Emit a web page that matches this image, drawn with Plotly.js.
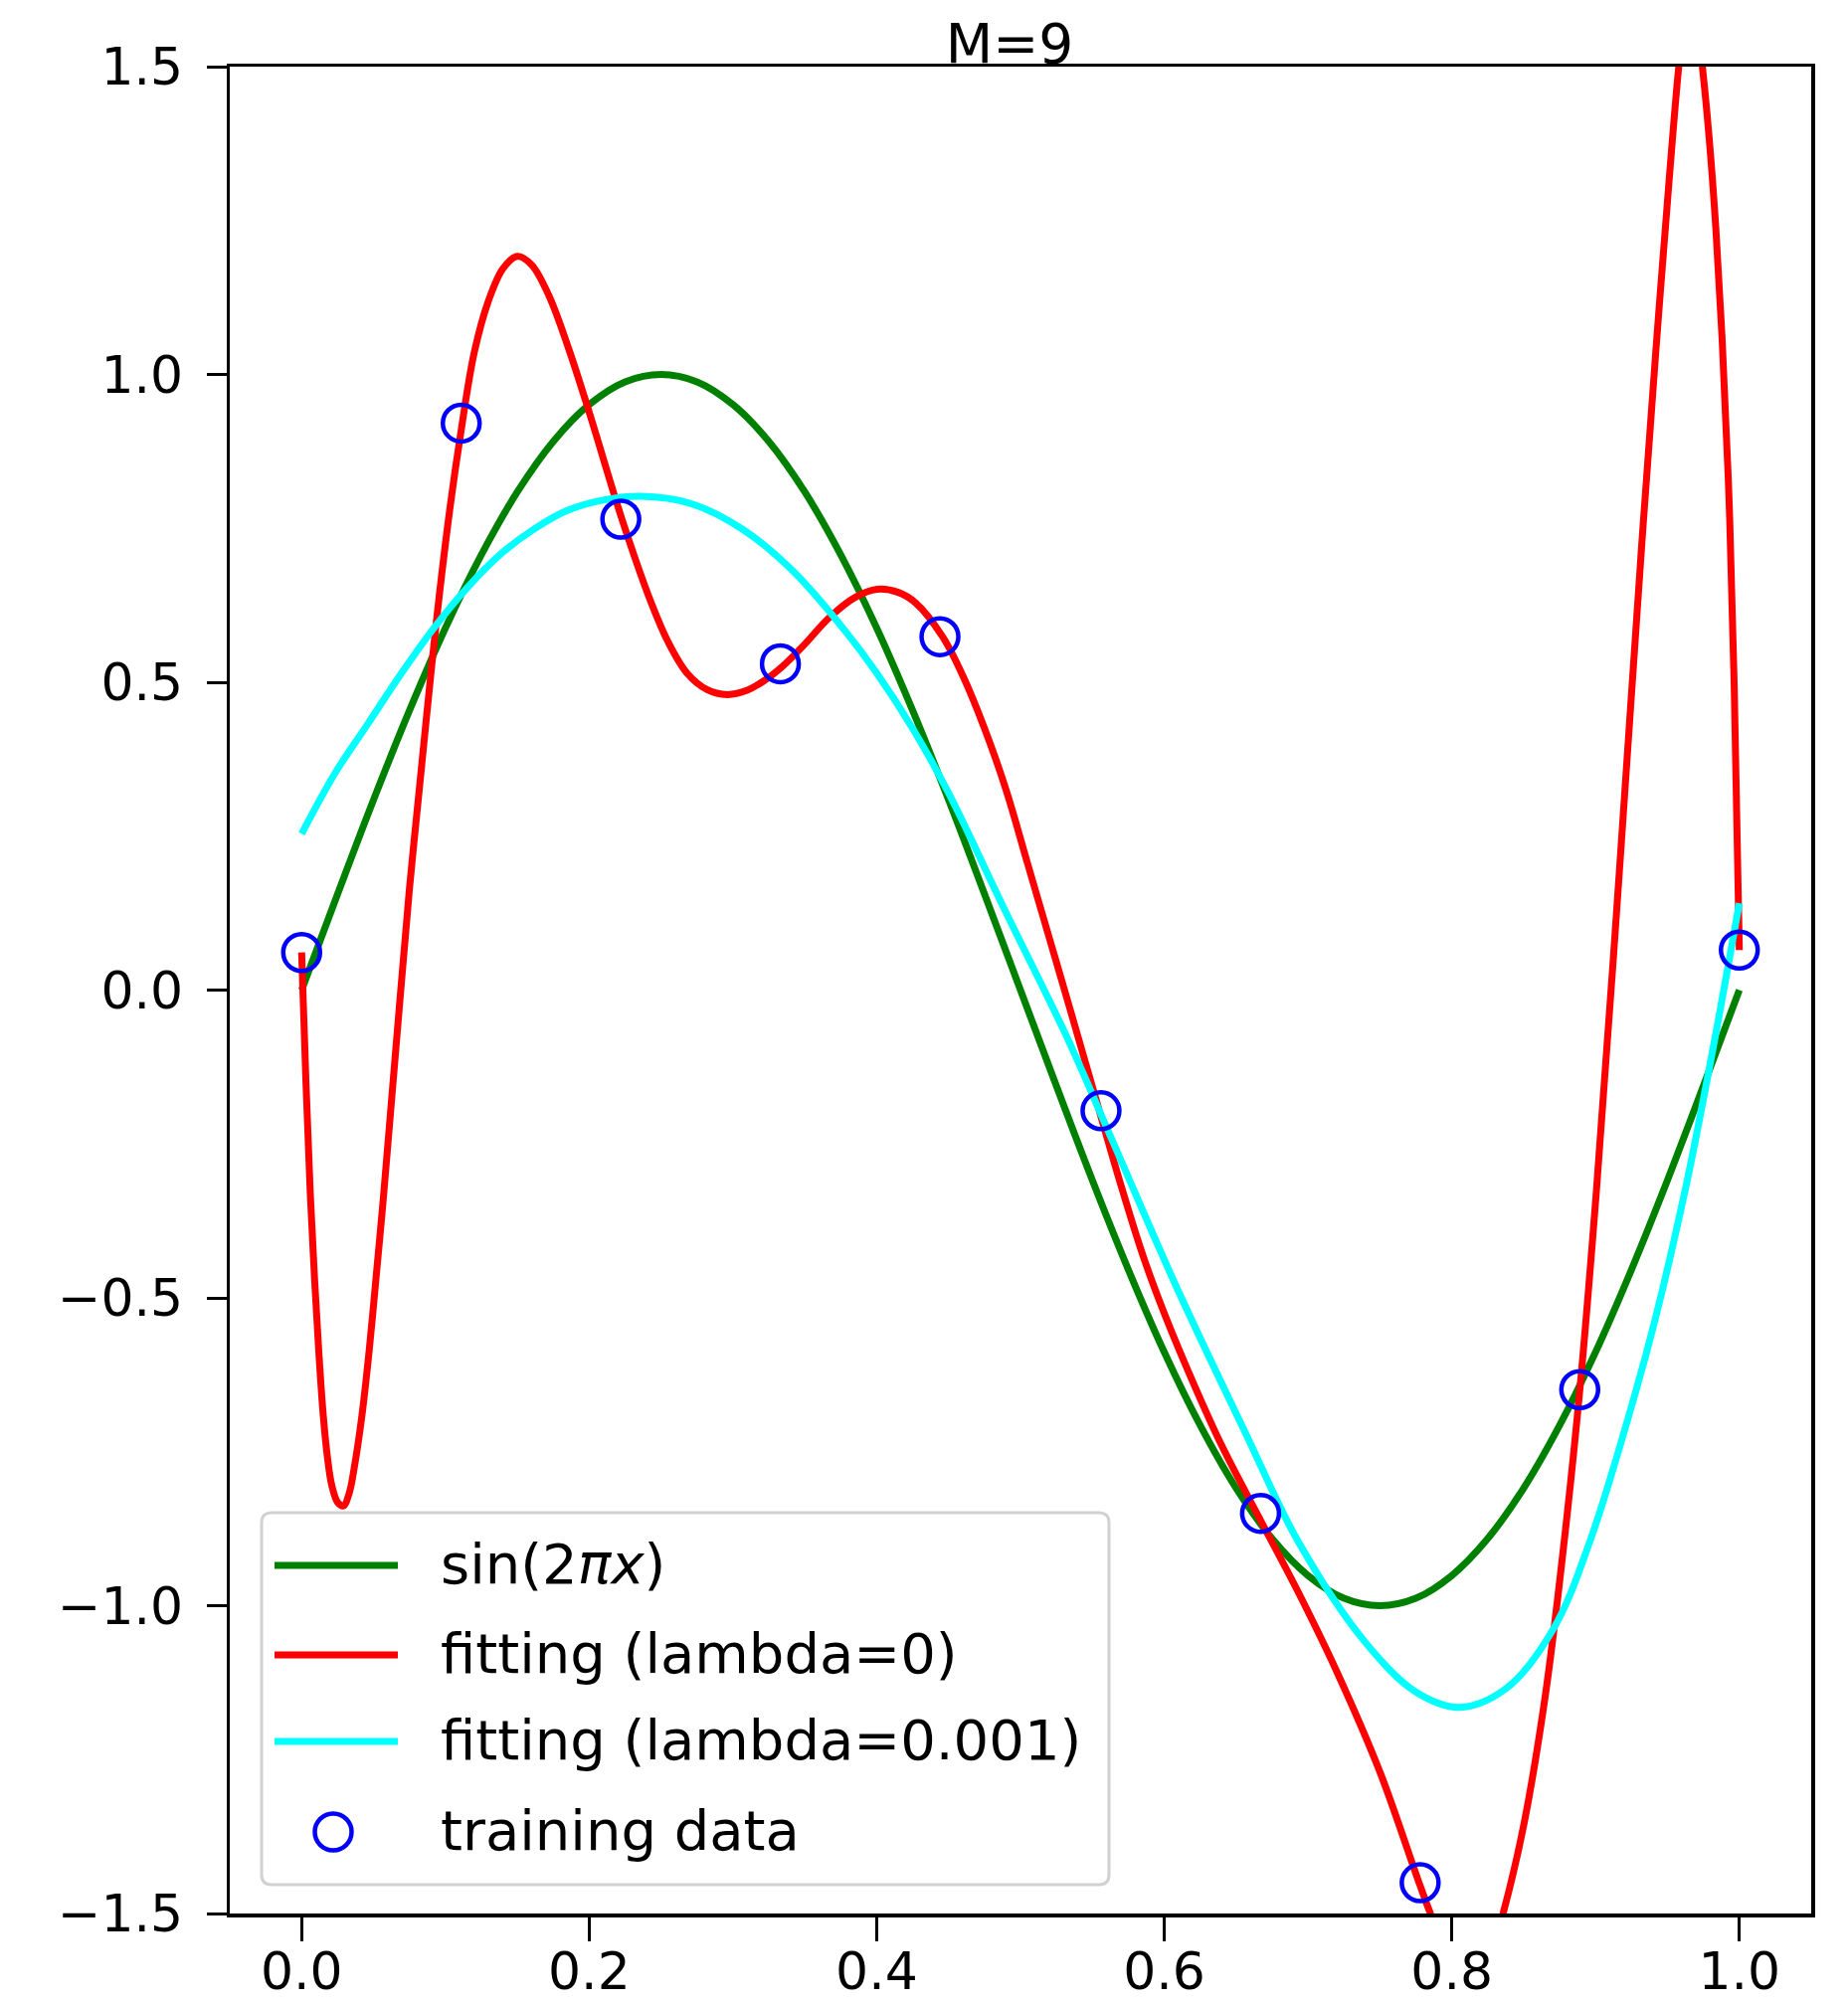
<!DOCTYPE html>
<html>
<head>
<meta charset="utf-8">
<script src="https://cdn.plot.ly/plotly-3.0.1.min.js"></script>
<style>
  html, body { margin: 0; padding: 0; background: #ffffff; }
  #chart { width: 1858px; height: 2015px; }
</style>
</head>
<body>
<div id="chart"></div>
<script>
// ---------------- data ----------------
const chartTitle = "M=9";

const xTickVals = [0.0, 0.2, 0.4, 0.6, 0.8, 1.0];
const xTickText = ["0.0", "0.2", "0.4", "0.6", "0.8", "1.0"];
const yTickVals = [-1.5, -1.0, -0.5, 0.0, 0.5, 1.0, 1.5];
const yTickText = ["\u22121.5", "\u22121.0", "\u22120.5", "0.0", "0.5", "1.0", "1.5"];

const seriesNames = ["sin(2<i>\u03c0x</i>)", "fitting (lambda=0)", "fitting (lambda=0.001)", "training data"];

// green: sin(2 pi x)
const xSin = [0, 0.025, 0.05, 0.075, 0.1, 0.125, 0.15, 0.175, 0.2, 0.225, 0.25, 0.275, 0.3, 0.325, 0.35, 0.375, 0.4, 0.425, 0.45, 0.475, 0.5,
              0.525, 0.55, 0.575, 0.6, 0.625, 0.65, 0.675, 0.7, 0.725, 0.75, 0.775, 0.8, 0.825, 0.85, 0.875, 0.9, 0.925, 0.95, 0.975, 1.0];
const ySin = [0, 0.156, 0.309, 0.454, 0.588, 0.707, 0.809, 0.891, 0.951, 0.988, 1.0, 0.988, 0.951, 0.891, 0.809, 0.707, 0.588, 0.454, 0.309, 0.156, 0,
              -0.156, -0.309, -0.454, -0.588, -0.707, -0.809, -0.891, -0.951, -0.988, -1.0, -0.988, -0.951, -0.891, -0.809, -0.707, -0.588, -0.454, -0.309, -0.156, 0];

// red: fit with lambda = 0
const xFit0 = [0, 0.003, 0.006, 0.009, 0.012, 0.015, 0.018, 0.021, 0.025, 0.029,
               0.033, 0.037, 0.042, 0.047, 0.052, 0.056, 0.060, 0.065, 0.0695, 0.075,
               0.082, 0.088, 0.094, 0.103, 0.111, 0.12, 0.13, 0.14, 0.15, 0.16,
               0.172, 0.186, 0.2005, 0.2228, 0.243, 0.255, 0.268, 0.282, 0.296, 0.31,
               0.322, 0.335, 0.35, 0.367, 0.385, 0.4004, 0.415, 0.427, 0.4458, 0.46,
               0.475, 0.49, 0.505, 0.52, 0.535, 0.5547, 0.57, 0.585, 0.60, 0.62,
               0.64, 0.666, 0.693, 0.72, 0.75, 0.7777, 0.786, 0.7984, 0.8109, 0.8233,
               0.8357, 0.85, 0.865, 0.877, 0.889, 0.9005, 0.912, 0.9236, 0.9329, 0.942,
               0.9513, 0.9578, 0.9619, 0.966, 0.9702, 0.9743, 0.979, 0.9836, 0.988, 0.9928,
               0.9964, 1.0];
const yFit0 = [0.061, -0.15, -0.33, -0.47, -0.59, -0.69, -0.76, -0.805, -0.832, -0.838,
               -0.818, -0.77, -0.69, -0.585, -0.461, -0.36, -0.25, -0.11, 0.015, 0.165,
               0.33, 0.47, 0.605, 0.78, 0.91, 1.035, 1.12, 1.172, 1.192, 1.178,
               1.128, 1.040, 0.935, 0.765, 0.630, 0.565, 0.515, 0.488, 0.480, 0.487,
               0.503, 0.527, 0.562, 0.605, 0.638, 0.651, 0.646, 0.629, 0.574, 0.51,
               0.425, 0.325, 0.205, 0.085, -0.035, -0.195, -0.318, -0.43, -0.525, -0.637,
               -0.74, -0.857, -0.977, -1.107, -1.27, -1.453, -1.505, -1.57, -1.612, -1.598,
               -1.50, -1.357, -1.147, -0.92, -0.651, -0.329, 0.039, 0.433, 0.749, 1.040,
               1.319, 1.498, 1.58, 1.605, 1.578, 1.50, 1.385, 1.24, 1.06, 0.80,
               0.50, 0.065];

// cyan: fit with lambda = 0.001
const xFit1 = [0, 0.0234, 0.0465, 0.0695, 0.0926, 0.1157, 0.1388, 0.1618, 0.1848, 0.2079,
               0.236, 0.271, 0.307, 0.342, 0.3775, 0.40, 0.425, 0.45, 0.487, 0.533,
               0.564, 0.610, 0.6566, 0.693, 0.740, 0.775, 0.8053, 0.838, 0.8708, 0.896,
               0.927, 0.942, 0.9628, 0.9813, 1.0];
const yFit1 = [0.254, 0.353, 0.434, 0.515, 0.590, 0.655, 0.709, 0.749, 0.779, 0.795,
               0.802, 0.790, 0.748, 0.68, 0.585, 0.515, 0.425, 0.32, 0.14, -0.08,
               -0.245, -0.49, -0.72, -0.895, -1.06, -1.14, -1.165, -1.134, -1.037, -0.896,
               -0.66, -0.53, -0.32, -0.10, 0.141];

// blue circles: training data
const xTrain = [0, 0.111, 0.222, 0.333, 0.444, 0.556, 0.667, 0.778, 0.889, 1.0];
const yTrain = [0.061, 0.921, 0.765, 0.530, 0.574, -0.196, -0.850, -1.450, -0.649, 0.065];

// ---------------- styling ----------------
const COLORS = ["#008000", "#ff0000", "#00ffff", "#0000ff"];
const FONT = "DejaVu Sans, Liberation Sans, sans-serif";
const W = 1858, H = 2015;
const L = 231, R = 1821, T = 67, B = 1924;   // plot area in pixels
const px2x = p => (p - L) / (R - L);
const py2y = p => (B - p) / (B - T);

const lineW = 7;
const traces = [
  { x: xSin, y: ySin, type: "scatter", mode: "lines", name: seriesNames[0],
    line: { color: COLORS[0], width: lineW, shape: "spline", smoothing: 1 } },
  { x: xFit0, y: yFit0, type: "scatter", mode: "lines", name: seriesNames[1],
    line: { color: COLORS[1], width: lineW, shape: "spline", smoothing: 1 } },
  { x: xFit1, y: yFit1, type: "scatter", mode: "lines", name: seriesNames[2],
    line: { color: COLORS[2], width: lineW, shape: "spline", smoothing: 1 } },
  { x: xTrain, y: yTrain, type: "scatter", mode: "markers", name: seriesNames[3],
    marker: { symbol: "circle-open", size: 37, color: COLORS[3], line: { color: COLORS[3], width: 4.5 } },
    cliponaxis: false }
];

// ---------------- hand-drawn legend (matplotlib style) ----------------
function roundedRectPath(x0p, y0p, x1p, y1p, rp) {
  const X = p => px2x(p).toFixed(5), Y = p => py2y(p).toFixed(5);
  return "M " + X(x0p + rp) + "," + Y(y0p) +
    " L " + X(x1p - rp) + "," + Y(y0p) +
    " Q " + X(x1p) + "," + Y(y0p) + " " + X(x1p) + "," + Y(y0p + rp) +
    " L " + X(x1p) + "," + Y(y1p - rp) +
    " Q " + X(x1p) + "," + Y(y1p) + " " + X(x1p - rp) + "," + Y(y1p) +
    " L " + X(x0p + rp) + "," + Y(y1p) +
    " Q " + X(x0p) + "," + Y(y1p) + " " + X(x0p) + "," + Y(y1p - rp) +
    " L " + X(x0p) + "," + Y(y0p + rp) +
    " Q " + X(x0p) + "," + Y(y0p) + " " + X(x0p + rp) + "," + Y(y0p) + " Z";
}
const legBox = { x0: 263, y0: 1521, x1: 1115, y1: 1895 };
const legRows = [1574, 1664, 1751, 1842];
const legLineX = [276, 400];
const legTextX = 441;

const shapes = [
  { type: "path", xref: "paper", yref: "paper", layer: "above",
    path: roundedRectPath(legBox.x0, legBox.y0, legBox.x1, legBox.y1, 10),
    fillcolor: "rgba(255,255,255,0.8)", line: { color: "rgba(204,204,204,0.9)", width: 3 } }
];
for (let i = 0; i < 3; i++) {
  shapes.push({ type: "line", xref: "paper", yref: "paper", layer: "above",
    x0: px2x(legLineX[0]), x1: px2x(legLineX[1]), y0: py2y(legRows[i]), y1: py2y(legRows[i]),
    line: { color: COLORS[i], width: lineW } });
}
shapes.push({ type: "circle", xref: "paper", yref: "paper", layer: "above",
  x0: px2x(335 - 18.5), x1: px2x(335 + 18.5), y0: py2y(legRows[3] + 18.5), y1: py2y(legRows[3] - 18.5),
  line: { color: COLORS[3], width: 4.5 }, fillcolor: "rgba(0,0,0,0)" });

const annotations = seriesNames.map((name, i) => ({
  text: name, xref: "paper", yref: "paper", x: px2x(legTextX), y: py2y(legRows[i] - 2),
  xanchor: "left", yanchor: "middle", showarrow: false,
  font: { family: FONT, size: 56, color: "#000000" }
}));

const layout = {
  width: W, height: H,
  margin: { l: L, r: W - R, t: T, b: H - B, pad: 0 },
  paper_bgcolor: "#ffffff", plot_bgcolor: "#ffffff",
  showlegend: false,
  title: { text: chartTitle, font: { family: FONT, size: 55, color: "#000000" },
           x: px2x(1015), xref: "paper", xanchor: "center",
           y: (H - 44) / H, yref: "container", yanchor: "middle" },
  xaxis: {
    range: [-0.05, 1.05], tickmode: "array", tickvals: xTickVals, ticktext: xTickText,
    ticks: "outside", ticklen: 24, tickwidth: 3, tickcolor: "#000000",
    showline: true, mirror: true, linecolor: "#000000", linewidth: 3.5,
    showgrid: false, zeroline: false, ticklabelstandoff: -14,
    tickfont: { family: FONT, size: 52, color: "#000000" }
  },
  yaxis: {
    range: [-1.5, 1.5], tickmode: "array", tickvals: yTickVals, ticktext: yTickText,
    ticks: "outside", ticklen: 20, tickwidth: 3, tickcolor: "#000000",
    showline: true, mirror: true, linecolor: "#000000", linewidth: 3.5,
    showgrid: false, zeroline: false, ticklabelstandoff: 13,
    tickfont: { family: FONT, size: 52, color: "#000000" }
  },
  shapes: shapes,
  annotations: annotations
};

Plotly.newPlot("chart", traces, layout, { staticPlot: true, displayModeBar: false });
</script>
</body>
</html>
